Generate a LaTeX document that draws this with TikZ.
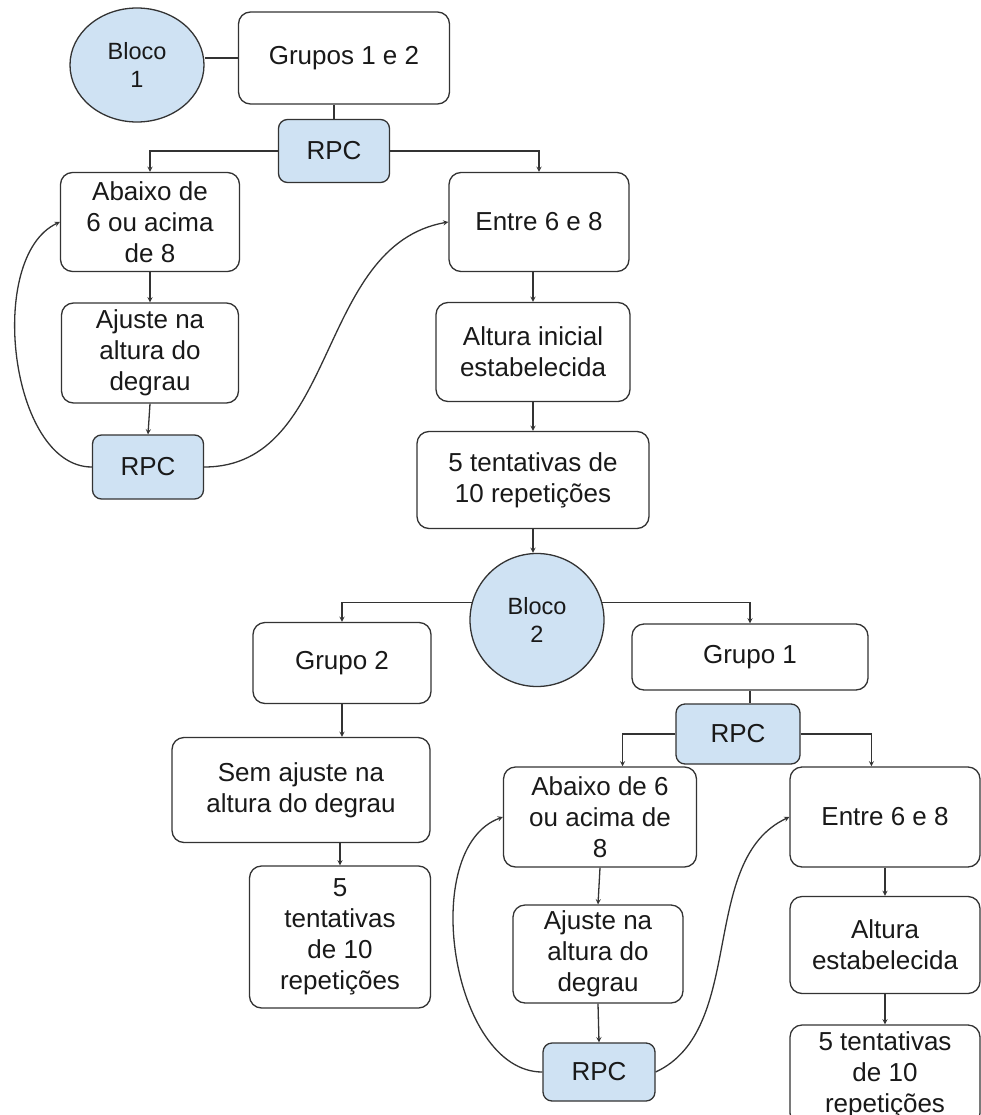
\documentclass[tikz,border=0pt]{standalone}
\usepackage{fontspec}
\setmainfont{Liberation Sans}
\usetikzlibrary{shapes,arrows,positioning,calc}
\definecolor{azulrpc}{HTML}{CFE2F3}
\definecolor{traco}{HTML}{333333}

\begin{document}
\begin{tikzpicture}[x=1pt,y=-1pt]
  % Define styles
  \tikzstyle{caixa} = [rectangle, draw=traco, line width=1.3pt, rounded corners=12pt, align=center, inner sep=2pt, text=black!90, font=\fontsize{26}{31}\selectfont]
  \tikzstyle{rpc} = [caixa, fill=azulrpc, rounded corners=9pt]
  \tikzstyle{bloco} = [ellipse, draw=traco, line width=1.3pt, fill=azulrpc, align=center, inner sep=0pt, text=black!90, font=\fontsize{23.5}{28}\selectfont]
  \tikzstyle{seta} = [draw=traco, line width=1.3pt, ->, >=stealth]
  \tikzstyle{liga} = [draw=traco, line width=1.3pt]

  \clip (0,0) rectangle (981,1115);

  % Bloco 1
  \node [bloco, minimum width=134pt, minimum height=114pt] (bloco1) at (137,65) {Bloco\\1};
  \node [caixa, minimum width=211pt, minimum height=92pt] (grupos) at (344,58) {Grupos 1 e 2};
  \node [rpc, minimum width=111pt, minimum height=63pt] (rpc1) at (334,151) {RPC};
  \node [caixa, minimum width=179pt, minimum height=99pt] (abaixo1) at (150,222) {Abaixo de\\6 ou acima\\de 8};
  \node [caixa, minimum width=180pt, minimum height=99pt] (entre1) at (539,222) {Entre 6 e 8};
  \node [caixa, minimum width=177pt, minimum height=100pt] (ajuste1) at (150,353) {Ajuste na\\altura do\\degrau};
  \node [rpc, minimum width=111pt, minimum height=64pt] (rpc2) at (148,467) {RPC};
  \node [caixa, minimum width=194pt, minimum height=99pt] (altura1) at (533,352) {Altura inicial\\estabelecida};
  \node [caixa, minimum width=232pt, minimum height=97pt] (tent1) at (533,480) {5 tentativas de\\10 repetições};

  % Bloco 2
  \node [bloco, minimum width=134pt, minimum height=133pt] (bloco2) at (537,620) {Bloco\\2};
  \node [caixa, minimum width=178pt, minimum height=81pt] (grupo2) at (342,663) {Grupo 2};
  \node [caixa, minimum width=258pt, minimum height=105pt] (semajuste) at (301,790) {Sem ajuste na\\altura do degrau};
  \node [caixa, minimum width=181pt, minimum height=142pt] (tent2) at (340,937) {5\\tentativas\\de 10\\repetições};
  \node [caixa, minimum width=236pt, minimum height=66pt] (grupo1) at (750,657) {Grupo 1};
  \node [rpc, minimum width=124pt, minimum height=60pt] (rpc3) at (738,734) {RPC};
  \node [caixa, minimum width=193pt, minimum height=100pt] (abaixo2) at (600,817) {Abaixo de 6\\ou acima de\\8};
  \node [caixa, minimum width=190pt, minimum height=100pt] (entre2) at (885,817) {Entre 6 e 8};
  \node [caixa, minimum width=170pt, minimum height=98pt] (ajuste2) at (598,954) {Ajuste na\\altura do\\degrau};
  \node [rpc, minimum width=112pt, minimum height=58pt] (rpc4) at (599,1072) {RPC};
  \node [caixa, minimum width=190pt, minimum height=97pt] (altura2) at (885,945) {Altura\\estabelecida};
  \node [caixa, minimum width=190pt, minimum height=100pt] (tent3) at (885,1075) {5 tentativas\\de 10\\repetições};

  % Connectors, bloco 1
  \draw [liga] (grupos.west) -- (grupos.west -| bloco1.east);
  \draw [liga] (rpc1.north) -- (rpc1.north |- grupos.south);
  \draw [seta] (rpc1.west) -| (abaixo1.north);
  \draw [seta] (rpc1.east) -| (entre1.north);
  \draw [seta] (abaixo1.south) -- (ajuste1.north);
  \draw [seta] (ajuste1.south) -- (rpc2.north);
  \draw [seta] (rpc2.west) to[out=180, in=205, looseness=0.85] (abaixo1.west);
  \draw [seta] (rpc2.east) to[out=0, in=190] (entre1.west);
  \draw [seta] (altura1.north |- entre1.south) -- (altura1.north);
  \draw [seta] (altura1.south) -- (tent1.north);
  \draw [seta] (tent1.south) -- (tent1.south |- bloco2.north);

  % Connectors, bloco 2
  \draw [seta] (bloco2.165) -| (grupo2.north);
  \draw [seta] (bloco2.15) -| (grupo1.north);
  \draw [seta] (grupo2.south) -- (semajuste.north -| grupo2.south);
  \draw [seta] (semajuste.south -| tent2.north) -- (tent2.north);
  \draw [liga] (grupo1.south) -- (grupo1.south |- rpc3.north);
  \draw [seta] (rpc3.west) -| (abaixo2.66);
  \draw [seta] (rpc3.east) -| (entre2.105);
  \draw [seta] (abaixo2.south) -- (ajuste2.north);
  \draw [seta] (ajuste2.south) -- (rpc4.north);
  \draw [seta] (rpc4.west) to[out=180, in=200, looseness=0.9] (abaixo2.west);
  \draw [seta] (rpc4.east) to[out=25, in=205, looseness=0.9] (entre2.west);
  \draw [seta] (entre2.south) -- (altura2.north);
  \draw [seta] (altura2.south) -- (tent3.north);

\end{tikzpicture}
\end{document}
